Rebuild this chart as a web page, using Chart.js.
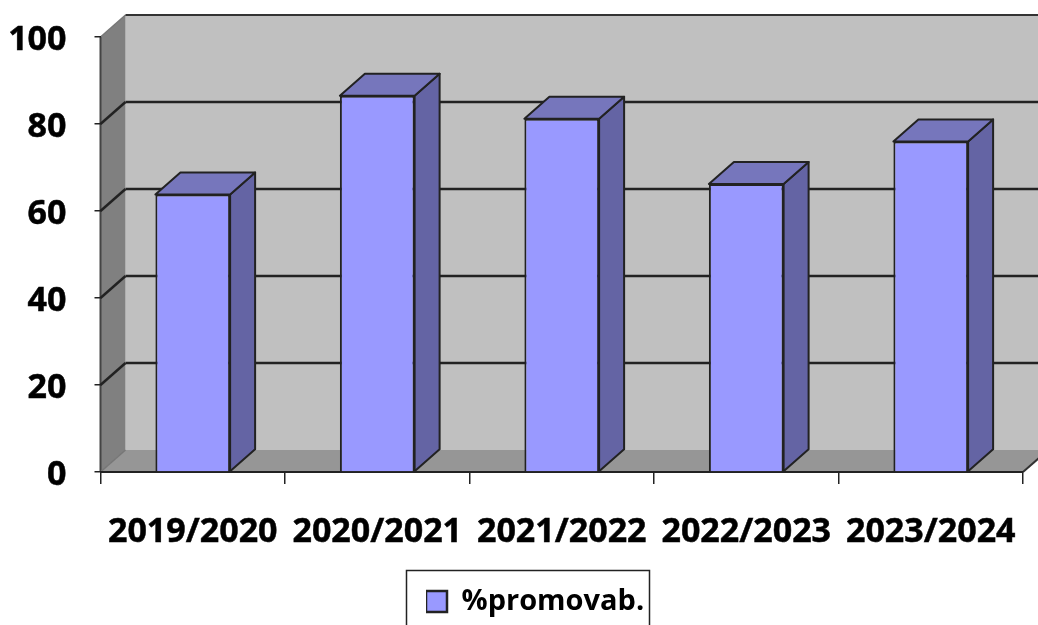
<!DOCTYPE html>
<html>
<head>
<meta charset="utf-8">
<script src="https://cdn.jsdelivr.net/npm/chart.js@4"></script>
<style>
html,body{margin:0;padding:0;background:#fff;overflow:hidden}
#wrap{position:relative;width:1038px;height:625px}
</style>
</head>
<body>
<div id="wrap"><canvas id="c" width="1038" height="625"></canvas></div>
<script>
const categories = ["2019/2020","2020/2021","2021/2022","2022/2023","2023/2024"];
const seriesName = "%promovab.";
const seriesValues = [63.8, 86.5, 81.2, 66.2, 76];
const yTicks = [0,20,40,60,80,100];

const DX = 25, DY = -22;
const FONT = {family:"'Open Sans'", weight:"bold", size:34};
const LEGEND_FONT = {family:"'Open Sans'", weight:"bold", size:29};

function poly(ctx, pts, fill, stroke, lw){
  ctx.beginPath();
  pts.forEach((p,i)=> i?ctx.lineTo(p[0],p[1]):ctx.moveTo(p[0],p[1]));
  ctx.closePath();
  if(fill){ctx.fillStyle=fill;ctx.fill();}
  if(stroke){ctx.strokeStyle=stroke;ctx.lineWidth=lw||1.5;ctx.stroke();}
}
function line(ctx,x1,y1,x2,y2,c,lw){
  ctx.beginPath();ctx.moveTo(x1,y1);ctx.lineTo(x2,y2);ctx.strokeStyle=c;ctx.lineWidth=lw;ctx.stroke();
}
const depth3d = {
  id:"depth3d",
  afterLayout(chart){
    const l = chart.legend;
    if(!l) return;
    l.left=426; l.right=650; l.width=224; l.top=587; l.bottom=640;
  },
  beforeDraw(chart){
    const {ctx,chartArea:a,scales:{y}} = chart;
    ctx.save();
    const L=a.left,R=a.right,T=a.top,B=a.bottom;
    poly(ctx,[[L+DX,T+DY],[R+DX,T+DY],[R+DX,B+DY],[L+DX,B+DY]],"#c0c0c0");
    poly(ctx,[[L,T],[L+DX,T+DY],[L+DX,B+DY],[L,B]],"#808080");
    poly(ctx,[[L,B],[L+DX,B+DY],[R+DX,B+DY],[R,B]],"#969696");
    line(ctx,L,T,L,B,"#444",2);
    line(ctx,L,T,L+DX,T+DY,"#777",1.5);
    line(ctx,L+DX,T+DY,R+DX,T+DY,"#333",2);
    yTicks.forEach(v=>{
      if(v===0||v===100) return;
      const py=y.getPixelForValue(v);
      line(ctx,L,py,L+DX,py+DY,"#222",2.5);
      line(ctx,L+DX,py+DY,R+DX,py+DY,"#222",2.5);
    });
    line(ctx,L,B,L+DX,B+DY,"#777",1.5);
    line(ctx,R,B,R+DX,B+DY,"#333",2);
    ctx.restore();
  },
  beforeDatasetsDraw(chart){
    const {ctx}=chart;
    const els=chart.getDatasetMeta(0).data;
    ctx.save();
    ctx.lineJoin="round";
    els.forEach(b=>{
      const p=b.getProps(["x","y","base","width"],true);
      const l=p.x-p.width/2,r=p.x+p.width/2;
      poly(ctx,[[r,p.y],[r+DX,p.y+DY],[r+DX,p.base+DY],[r,p.base]],"#6464a4","#222",2);
      poly(ctx,[[l,p.y],[l+DX,p.y+DY],[r+DX,p.y+DY],[r,p.y]],"#7676bc","#222",2);
    });
    ctx.restore();
  },
  afterDraw(chart){
    const {ctx}=chart;
    ctx.save();
    ctx.strokeStyle="#222";ctx.lineWidth=1.5;
    ctx.beginPath();
    ctx.moveTo(406.5,640);ctx.lineTo(406.5,570.5);ctx.lineTo(649.5,570.5);ctx.lineTo(649.5,640);
    ctx.stroke();
    ctx.restore();
  }
};

new Chart(document.getElementById("c"),{
  type:"bar",
  data:{labels:categories,datasets:[{
    label:seriesName,data:seriesValues,
    backgroundColor:"#9999ff",borderColor:"#222",borderWidth:2,
    categoryPercentage:1,barPercentage:0.405
  }]},
  plugins:[depth3d],
  options:{
    responsive:false,animation:false,
    layout:{padding:{top:37,right:15,left:0,bottom:0}},
    plugins:{
      tooltip:{enabled:false},
      title:{display:false},
      legend:{
        display:true,position:"bottom",align:"start",
        labels:{boxWidth:21,boxHeight:21,padding:0,color:"#000",font:LEGEND_FONT,
          generateLabels(chart){
            return [{text:seriesName,fillStyle:"#9999ff",strokeStyle:"#222",lineWidth:2.5,datasetIndex:0}];
          }}
      }
    },
    scales:{
      x:{
        afterFit(s){s.height=114;s.paddingLeft=0;s.paddingRight=0;},
        grid:{display:true,drawOnChartArea:false,drawTicks:true,tickLength:12,color:"#222",lineWidth:1.5},
        border:{display:true,color:"#222",width:2},
        ticks:{color:"#000",font:FONT,padding:28,maxRotation:0,autoSkip:false,textStrokeColor:"#000",textStrokeWidth:0.5}
      },
      y:{
        min:0,max:100,
        afterFit(s){s.width=100.5;s.paddingTop=0;s.paddingBottom=0;},
        grid:{display:true,drawOnChartArea:false,drawTicks:true,tickLength:6,color:"#222",lineWidth:1.5},
        border:{display:false},
        ticks:{color:"#000",font:FONT,padding:28,stepSize:20,labelOffset:3,textStrokeColor:"#000",textStrokeWidth:0.5}
      }
    }
  }
});
</script>
</body>
</html>
